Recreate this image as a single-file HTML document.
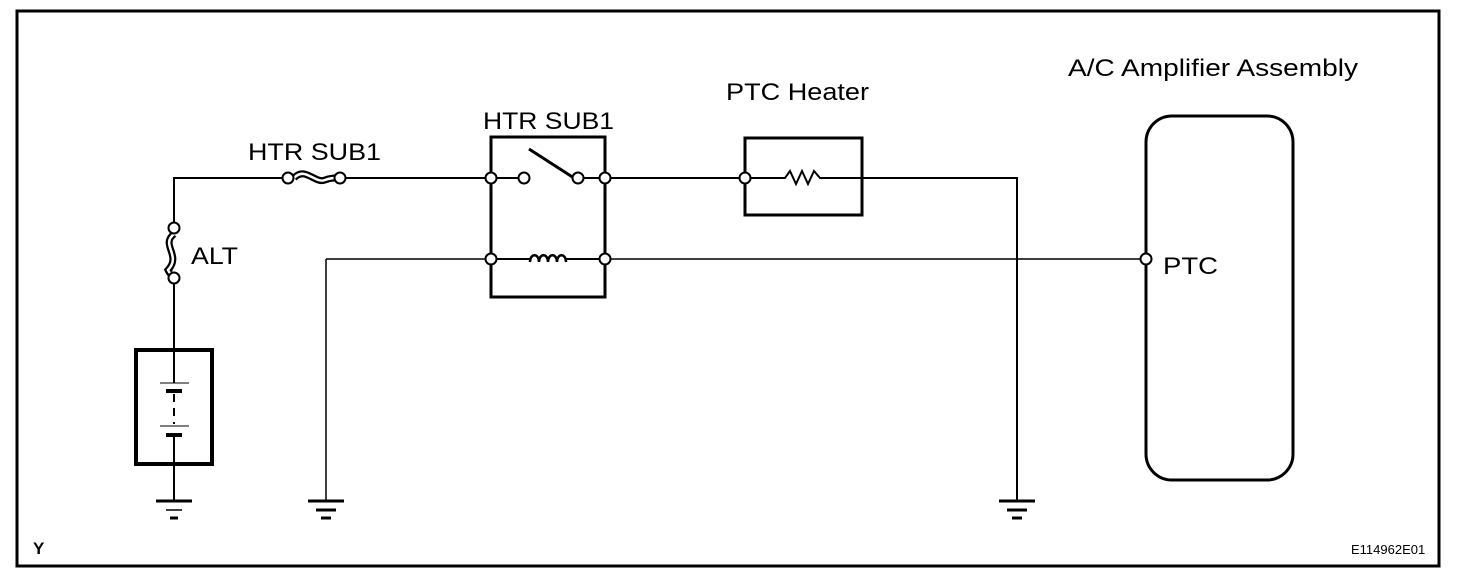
<!DOCTYPE html>
<html><head><style>
body{margin:0;background:#fff;}
svg{display:block;}
text{font-family:"Liberation Sans",Arial,sans-serif;fill:#000;}
</style></head><body>
<svg width="1472" height="582" viewBox="0 0 1472 582" xmlns="http://www.w3.org/2000/svg">
<rect x="17" y="11" width="1422" height="555" fill="none" stroke="#000" stroke-width="3"/>
<g stroke="#000" fill="none" stroke-width="2">
<polyline points="288,178 174,178 174,228"/>
<line x1="174" y1="278" x2="174" y2="350"/>
<line x1="174" y1="464" x2="174" y2="500"/>
<line x1="340" y1="178" x2="491" y2="178"/>
<path d="M294,178 C305,166 315,184 325,180 C330,178 333,178 336,178" stroke-width="7"/>
<path d="M294,178 C305,166 315,184 325,180 C330,178 333,178 336,178" stroke="#fff" stroke-width="2.5"/>
<path d="M174,234 C160,245 182,255 168,270 C170,274 172,276 174,274" stroke-width="7"/>
<path d="M174,234 C160,245 182,255 168,270 C170,274 172,276 174,274" stroke="#fff" stroke-width="2.5"/>
<rect x="136" y="350" width="76" height="114" stroke-width="4"/>
<line x1="174" y1="350" x2="174" y2="383"/>
<line x1="160" y1="383" x2="189" y2="383" stroke-width="1"/>
<line x1="166" y1="391" x2="182" y2="391" stroke-width="4"/>
<line x1="174" y1="394" x2="174" y2="424" stroke-width="2" stroke-dasharray="8,6"/>
<line x1="160" y1="426" x2="189" y2="426" stroke-width="1"/>
<line x1="166" y1="435" x2="182" y2="435" stroke-width="4"/>
<line x1="174" y1="435" x2="174" y2="464"/>
<g stroke-width="3">
<line x1="156" y1="501" x2="192" y2="501"/><line x1="166" y1="510" x2="182" y2="510" stroke-width="1.5"/><line x1="170" y1="518" x2="178" y2="518"/>
<line x1="308" y1="501" x2="344" y2="501"/><line x1="316" y1="510" x2="336" y2="510"/><line x1="321" y1="518" x2="331" y2="518"/>
<line x1="999" y1="501" x2="1035" y2="501"/><line x1="1007" y1="510" x2="1027" y2="510"/><line x1="1012" y1="518" x2="1022" y2="518"/>
</g>
<line x1="326" y1="259" x2="326" y2="500" stroke-width="1.5"/>
<line x1="326" y1="259" x2="491" y2="259" stroke-width="1.5"/>
<rect x="491" y="137" width="114" height="160" stroke-width="3"/>
<line x1="491" y1="178" x2="518" y2="178"/>
<line x1="529" y1="149" x2="574" y2="178" stroke-width="3"/>
<line x1="583" y1="178" x2="605" y2="178"/>
<line x1="491" y1="259" x2="530" y2="259"/>
<path d="M530,262 c0,-9 9,-9 9,0 c0,-9 9,-9 9,0 c0,-9 9,-9 9,0 c0,-9 9,-9 9,0" stroke-width="2.5"/>
<line x1="566" y1="259" x2="605" y2="259"/>
<line x1="605" y1="259" x2="1145" y2="259" stroke-width="1.5"/>
<line x1="605" y1="178" x2="745" y2="178"/>
<rect x="745" y="138" width="117" height="77" stroke-width="3"/>
<polyline points="745,178 785,178 790,171 796,184 802,171 808,184 814,171 820,178 862,178"/>
<polyline points="862,178 1017,178 1017,500"/>
<rect x="1146" y="116" width="147" height="364" rx="26" stroke-width="3"/>
</g>
<g fill="#fff" stroke="#000" stroke-width="2">
<circle cx="288" cy="178" r="5.5"/><circle cx="340" cy="178" r="5.5"/>
<circle cx="174" cy="228" r="5.5"/><circle cx="174" cy="278" r="5.5"/>
<circle cx="491" cy="178" r="5.5"/><circle cx="524" cy="178" r="5.5"/><circle cx="578" cy="178" r="5.5"/><circle cx="605" cy="178" r="5.5"/>
<circle cx="491" cy="259" r="5.5"/><circle cx="605" cy="259" r="5.5"/>
<circle cx="745" cy="178" r="5.5"/><circle cx="1146" cy="259" r="5.5"/>
</g>
<text x="248" y="160" font-size="24" textLength="133" lengthAdjust="spacingAndGlyphs">HTR SUB1</text>
<text x="483" y="129" font-size="24" textLength="131" lengthAdjust="spacingAndGlyphs">HTR SUB1</text>
<text x="191" y="264" font-size="24" textLength="47" lengthAdjust="spacingAndGlyphs">ALT</text>
<text x="726" y="100" font-size="24" textLength="143" lengthAdjust="spacingAndGlyphs">PTC Heater</text>
<text x="1068" y="76" font-size="24" textLength="290" lengthAdjust="spacingAndGlyphs">A/C Amplifier Assembly</text>
<text x="1163" y="274" font-size="24" textLength="55" lengthAdjust="spacingAndGlyphs">PTC</text>
<text x="33" y="554" font-size="17" font-weight="bold">Y</text>
<text x="1351" y="554" font-size="13">E114962E01</text>
</svg>
</body></html>
